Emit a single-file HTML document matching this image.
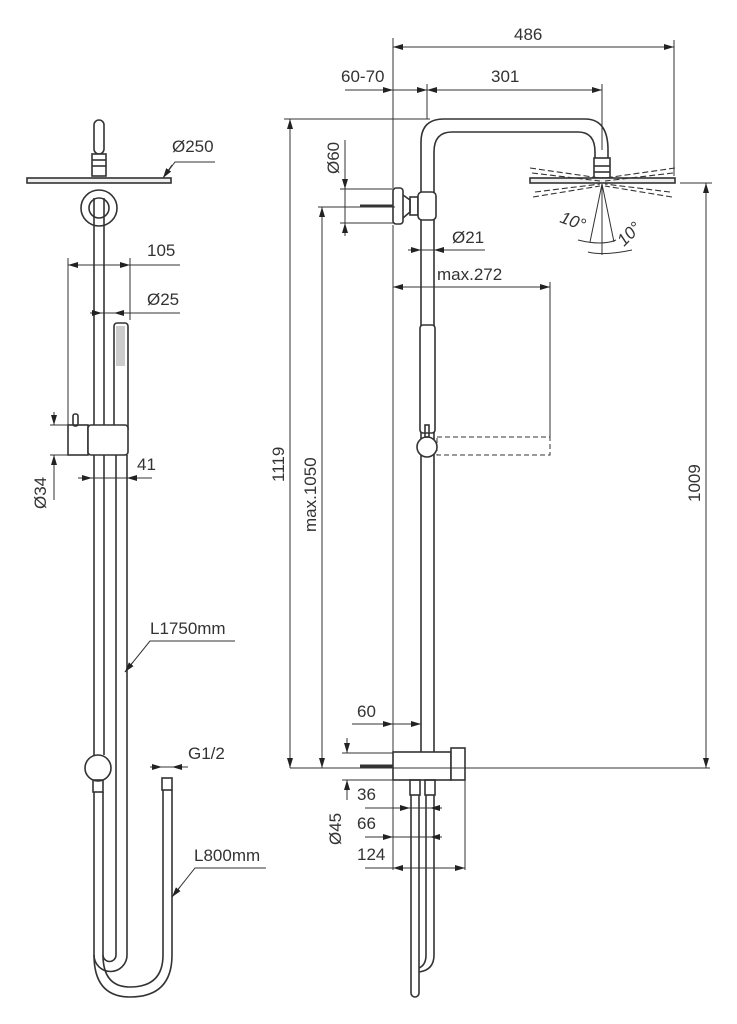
<!DOCTYPE html>
<html><head><meta charset="utf-8"><style>
html,body{margin:0;padding:0;background:#fff}
svg{display:block}
text{font-family:"Liberation Sans",sans-serif;font-size:17px;fill:#333}
</style></head><body>
<svg width="737" height="1024" viewBox="0 0 737 1024" xmlns="http://www.w3.org/2000/svg">
<defs>
<marker id="a" viewBox="0 0 10 6" refX="10" refY="3" markerWidth="10" markerHeight="6" orient="auto-start-reverse" markerUnits="userSpaceOnUse"><path d="M0,0L10,3L0,6z" fill="#222"/></marker>
</defs>
<g fill="none" stroke="#333" stroke-width="1.6">
<rect x="94" y="120" width="10" height="34" rx="5" fill="#fff"/>
<rect x="92" y="154" width="14" height="22" fill="#fff"/>
<line x1="92" y1="160" x2="106" y2="160"/><line x1="92" y1="166" x2="106" y2="166"/>
<rect x="27" y="178" width="144" height="5" fill="#eee"/>
<circle cx="99" cy="208" r="18"/><circle cx="99" cy="208" r="10"/>
<line x1="94" y1="198" x2="94" y2="425"/><line x1="104" y1="198" x2="104" y2="425"/>
<rect x="114" y="323" width="14" height="109" rx="3" fill="#fff"/>
<rect x="116" y="326" width="9" height="40" fill="#ccc" stroke="none"/>
<rect x="73" y="414" width="5" height="12" rx="2"/>
<rect x="68" y="425" width="20" height="30"/><rect x="88" y="425" width="40" height="30" rx="3" fill="#fff"/>
<line x1="94" y1="455" x2="94" y2="755"/><line x1="104" y1="455" x2="104" y2="755"/>
<line x1="116" y1="455" x2="116" y2="955"/><line x1="127" y1="455" x2="127" y2="955"/>
<circle cx="98" cy="768" r="13" fill="#fff"/>
<rect x="93" y="780" width="10" height="12"/>
<line x1="94" y1="792" x2="94" y2="955"/><line x1="103" y1="792" x2="103" y2="955"/>
<path d="M103,955 A6.5,6.5 0 0 0 116,955"/>
<path d="M94,955 A16,16 0 0 0 127,955"/>
<path d="M94,955 Q94,997 130,997 Q172,997 172,955 L172,790"/>
<path d="M103,955 Q103,987 130,987 Q163,987 163,955 L163,790"/>
<rect x="162" y="778" width="10" height="12"/>
<line x1="68" y1="258" x2="68" y2="425" stroke-width="1"/>
<line x1="130" y1="258" x2="130" y2="320" stroke-width="1"/>
<line x1="68" y1="265" x2="180" y2="265" stroke-width="1"/>
<line x1="80" y1="265" x2="68" y2="265" stroke-width="1" marker-end="url(#a)"/>
<line x1="118" y1="265" x2="130" y2="265" stroke-width="1" marker-end="url(#a)"/>
<line x1="102" y1="313" x2="180" y2="313" stroke-width="1"/>
<line x1="90" y1="313" x2="102" y2="313" stroke-width="1" marker-end="url(#a)"/>
<line x1="126" y1="313" x2="114" y2="313" stroke-width="1" marker-end="url(#a)"/>
<polyline points="163,178 175,162 215,162" stroke-width="1"/>
<line x1="172" y1="165" x2="163" y2="178" stroke-width="1" marker-end="url(#a)"/>
<line x1="50" y1="425" x2="68" y2="425" stroke-width="1"/><line x1="50" y1="455" x2="68" y2="455" stroke-width="1"/>
<line x1="54" y1="412" x2="54" y2="425" stroke-width="1" marker-end="url(#a)"/>
<line x1="54" y1="500" x2="54" y2="455" stroke-width="1" marker-end="url(#a)"/>
<line x1="78" y1="478" x2="152" y2="478" stroke-width="1"/>
<line x1="80" y1="478" x2="92" y2="478" stroke-width="1" marker-end="url(#a)"/>
<line x1="139" y1="478" x2="127" y2="478" stroke-width="1" marker-end="url(#a)"/>
<polyline points="235,641 150,641 125,672" stroke-width="1"/>
<line x1="133" y1="662" x2="125" y2="672" stroke-width="1" marker-end="url(#a)"/>
<line x1="150" y1="767" x2="188" y2="767" stroke-width="1"/>
<line x1="150" y1="767" x2="162" y2="767" stroke-width="1" marker-end="url(#a)"/>
<line x1="184" y1="767" x2="172" y2="767" stroke-width="1" marker-end="url(#a)"/>
<polyline points="266,868 195,868 172,897" stroke-width="1"/>
<line x1="180" y1="887" x2="172" y2="897" stroke-width="1" marker-end="url(#a)"/>

<path d="M421,752 L421,142 Q421,119 444,119 L585,119 Q608,119 608,150 L608,158"/>
<path d="M434,752 L434,152 Q434,132 452,132 L578,132 Q595,132 595,152 L595,158"/>
<rect x="594" y="158" width="16" height="20" fill="#fff"/>
<line x1="594" y1="166" x2="610" y2="166"/><line x1="594" y1="172" x2="610" y2="172"/>
<rect x="530" y="178" width="145" height="5" fill="#eee"/>
<g stroke-dasharray="6,3" stroke-width="1.1">
<line x1="530" y1="168" x2="600" y2="178"/><line x1="532" y1="173" x2="600" y2="181"/>
<line x1="675" y1="168" x2="605" y2="178"/><line x1="673" y1="173" x2="605" y2="181"/>
<line x1="535" y1="192" x2="600" y2="184"/><line x1="533" y1="197" x2="600" y2="186"/>
<line x1="670" y1="192" x2="605" y2="184"/><line x1="672" y1="197" x2="605" y2="186"/>
</g>
<line x1="602" y1="184" x2="602" y2="255" stroke-width="1"/>
<line x1="602" y1="184" x2="590" y2="242" stroke-width="1"/>
<line x1="602" y1="184" x2="614" y2="242" stroke-width="1"/>
<path d="M578,240 Q602,246 616,240" stroke-width="1"/>
<path d="M588,252 Q604,256 632,250" stroke-width="1"/>
<rect x="393" y="188" width="10" height="36" rx="3" fill="#fff"/>
<path d="M403,195 L410,200 L410,212 L403,218"/>
<rect x="410" y="197" width="8" height="18"/>
<rect x="418" y="192" width="18" height="28" rx="4" fill="#fff"/>
<line x1="360" y1="206" x2="393" y2="206" stroke-width="3"/>
<rect x="420" y="325" width="15" height="108" rx="3" fill="#fff"/>
<circle cx="427" cy="447" r="10" fill="#fff"/>
<rect x="425" y="425" width="4" height="12"/>
<rect x="437" y="437" width="113" height="18" stroke-dasharray="5,3" stroke-width="1"/>
<line x1="550" y1="282" x2="550" y2="437" stroke-width="1"/>
<rect x="393" y="752" width="58" height="28" fill="#fff"/>
<rect x="451" y="748" width="14" height="32" fill="#fff"/>
<line x1="360" y1="766" x2="393" y2="766" stroke-width="3"/>
<rect x="410" y="780" width="10" height="15"/><rect x="425" y="780" width="10" height="15"/>
<line x1="411" y1="795" x2="411" y2="993"/><line x1="419" y1="795" x2="419" y2="993"/>
<path d="M411,993 A4,4 0 0 0 419,993"/>
<line x1="426" y1="795" x2="426" y2="955"/><line x1="434" y1="795" x2="434" y2="955"/>
<path d="M426,955 Q426,965 419,968 M434,955 Q434,970 419,972"/>
<g stroke-width="1">
<line x1="290" y1="768" x2="710" y2="768"/>
<line x1="284" y1="119" x2="430" y2="119"/>
<line x1="290" y1="119" x2="290" y2="768"/>
<line x1="290" y1="135" x2="290" y2="119" marker-end="url(#a)"/>
<line x1="290" y1="750" x2="290" y2="768" marker-end="url(#a)"/>
<line x1="318" y1="207" x2="395" y2="207"/>
<line x1="322" y1="207" x2="322" y2="768"/>
<line x1="322" y1="222" x2="322" y2="207" marker-end="url(#a)"/>
<line x1="322" y1="752" x2="322" y2="768" marker-end="url(#a)"/>
<line x1="680" y1="183" x2="712" y2="183"/>
<line x1="706" y1="183" x2="706" y2="768"/>
<line x1="706" y1="200" x2="706" y2="183" marker-end="url(#a)"/>
<line x1="706" y1="752" x2="706" y2="768" marker-end="url(#a)"/>
<line x1="393" y1="38" x2="393" y2="188"/>
<line x1="393" y1="225" x2="393" y2="870"/>
<line x1="674" y1="40" x2="674" y2="176"/>
<line x1="393" y1="47" x2="674" y2="47"/>
<line x1="405" y1="47" x2="393" y2="47" marker-end="url(#a)"/>
<line x1="662" y1="47" x2="674" y2="47" marker-end="url(#a)"/>
<line x1="345" y1="90" x2="602" y2="90"/>
<line x1="381" y1="90" x2="393" y2="90" marker-end="url(#a)"/>
<line x1="439" y1="90" x2="427" y2="90" marker-end="url(#a)"/>
<line x1="415" y1="90" x2="427" y2="90" marker-end="url(#a)"/>
<line x1="590" y1="90" x2="602" y2="90" marker-end="url(#a)"/>
<line x1="427" y1="84" x2="427" y2="119"/>
<line x1="602" y1="84" x2="602" y2="150"/>
<line x1="340" y1="189" x2="395" y2="189"/><line x1="340" y1="223" x2="395" y2="223"/>
<line x1="345" y1="140" x2="345" y2="223"/>
<line x1="345" y1="176" x2="345" y2="189" marker-end="url(#a)"/>
<line x1="345" y1="236" x2="345" y2="223" marker-end="url(#a)"/>
<line x1="408" y1="250" x2="485" y2="250"/>
<line x1="409" y1="250" x2="421" y2="250" marker-end="url(#a)"/>
<line x1="446" y1="250" x2="434" y2="250" marker-end="url(#a)"/>
<line x1="393" y1="287" x2="550" y2="287"/>
<line x1="407" y1="287" x2="393" y2="287" marker-end="url(#a)"/>
<line x1="536" y1="287" x2="550" y2="287" marker-end="url(#a)"/>
<line x1="352" y1="724" x2="421" y2="724"/>
<line x1="381" y1="724" x2="393" y2="724" marker-end="url(#a)"/>
<line x1="409" y1="724" x2="421" y2="724" marker-end="url(#a)"/>
<line x1="342" y1="753" x2="393" y2="753"/><line x1="342" y1="780" x2="393" y2="780"/>
<line x1="347" y1="738" x2="347" y2="753" marker-end="url(#a)"/>
<line x1="347" y1="800" x2="347" y2="780" marker-end="url(#a)"/>
<line x1="465" y1="780" x2="465" y2="870"/>
<line x1="365" y1="808" x2="430" y2="808"/>
<line x1="398" y1="808" x2="410" y2="808" marker-end="url(#a)"/>
<line x1="442" y1="808" x2="430" y2="808" marker-end="url(#a)"/>
<line x1="365" y1="837" x2="430" y2="837"/>
<line x1="381" y1="837" x2="393" y2="837" marker-end="url(#a)"/>
<line x1="442" y1="837" x2="430" y2="837" marker-end="url(#a)"/>
<line x1="365" y1="868" x2="465" y2="868"/>
<line x1="407" y1="868" x2="393" y2="868" marker-end="url(#a)"/>
<line x1="451" y1="868" x2="465" y2="868" marker-end="url(#a)"/>
</g>
</g>
<text x="172" y="152">Ø250</text>
<text x="147" y="256">105</text>
<text x="147" y="305">Ø25</text>
<text x="137" y="470">41</text>
<text transform="translate(46,509) rotate(-90)">Ø34</text>
<text x="150" y="634">L1750mm</text>
<text x="188" y="759">G1/2</text>
<text x="194" y="861">L800mm</text>
<text x="514" y="40">486</text>
<text x="341" y="82">60-70</text>
<text x="491" y="82">301</text>
<text transform="translate(339,174) rotate(-90)">Ø60</text>
<text x="452" y="243">Ø21</text>
<text x="437" y="280">max.272</text>
<text transform="translate(559,222) rotate(20)" style="font-style:italic">10°</text>
<text transform="translate(624,247) rotate(-45)" style="font-style:italic">10°</text>
<text transform="translate(284,482) rotate(-90)">1119</text>
<text transform="translate(316,532) rotate(-90)">max.1050</text>
<text transform="translate(700,502) rotate(-90)">1009</text>
<text x="357" y="717">60</text>
<text transform="translate(341,845) rotate(-90)">Ø45</text>
<text x="357" y="800">36</text>
<text x="357" y="829">66</text>
<text x="357" y="860">124</text>
</svg>
</body></html>
